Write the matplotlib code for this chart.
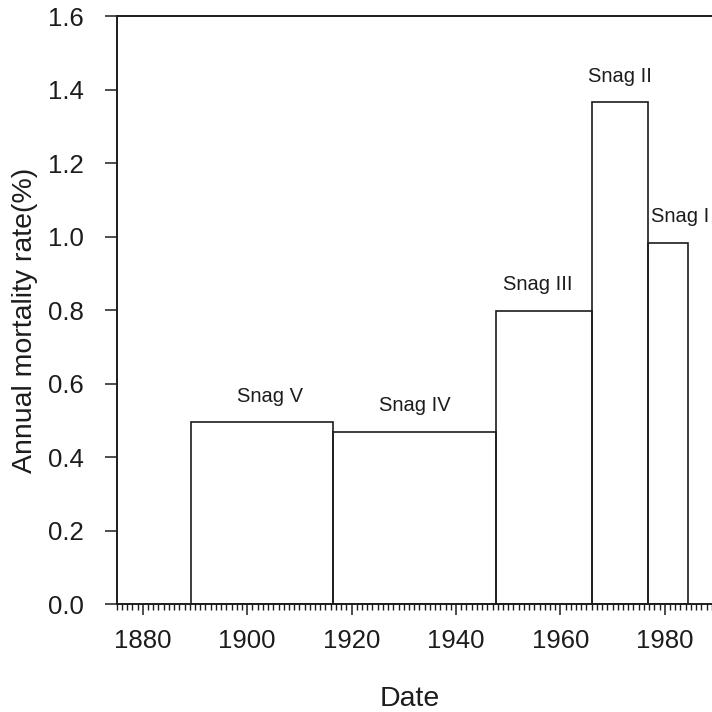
import numpy as np
import matplotlib
matplotlib.use("Agg")
import matplotlib.pyplot as plt
from matplotlib.ticker import MultipleLocator

plt.rcParams['font.family'] = ['Liberation Sans', 'DejaVu Sans']

# periods covered by each snag (bar edges, years) and annual mortality rate (%)
edges = [1889.2, 1916.5, 1947.6, 1966.0, 1976.7, 1984.5]
rates = [0.495, 0.468, 0.798, 1.365, 0.983]
snags = ['Snag V', 'Snag IV', 'Snag III', 'Snag II', 'Snag I']
xticks = [1880, 1900, 1920, 1940, 1960, 1980]
yticks = [0.0, 0.2, 0.4, 0.6, 0.8, 1.0, 1.2, 1.4, 1.6]

# small horizontal nudges of the labels (points)
label_dx = [6, 0, -4.5, 0, 8.5]

ink = '#1c1c1c'

fig = plt.figure(figsize=(7.12, 7.12), dpi=100)
ax = fig.add_axes([0.1639, 0.151, 0.8431, 0.8265])

left = np.array(edges[:-1])
widths = np.diff(edges)
ax.bar(left, rates, width=widths, align='edge', fill=False,
       edgecolor=ink, linewidth=1.2, zorder=3)

for x0, w, r, name, dx in zip(left, widths, rates, snags, label_dx):
    ax.annotate(name, (x0 + w / 2, r), xytext=(dx, 19),
                textcoords='offset points', ha='center', va='center',
                fontsize=14.5, color=ink)

ax.set_xlim(1875, 1990)
ax.set_ylim(0, 1.6)
ax.set_xticks(xticks)
ax.set_yticks(yticks)
ax.set_yticklabels([f'{v:.1f}' for v in yticks])
ax.xaxis.set_minor_locator(MultipleLocator(1))

ax.spines['right'].set_visible(False)
for s in ['left', 'bottom', 'top']:
    ax.spines[s].set_linewidth(1.4)
    ax.spines[s].set_color(ink)

ax.tick_params(axis='x', which='major', length=8, width=1.1, pad=10,
               labelsize=18.5, colors=ink)
ax.tick_params(axis='x', which='minor', length=4.3, width=1.0, colors=ink)
ax.tick_params(axis='y', which='major', length=8.6, width=1.1, pad=15,
               labelsize=18.5, colors=ink)

ax.set_xlabel('Date', fontsize=20.5, color=ink)
ax.xaxis.set_label_coords(0.489, -0.139)
ax.set_ylabel('Annual mortality rate(%)', fontsize=20.5, color=ink)
ax.yaxis.set_label_coords(-0.131, 0.483)

fig.savefig('out.png', dpi=100)
